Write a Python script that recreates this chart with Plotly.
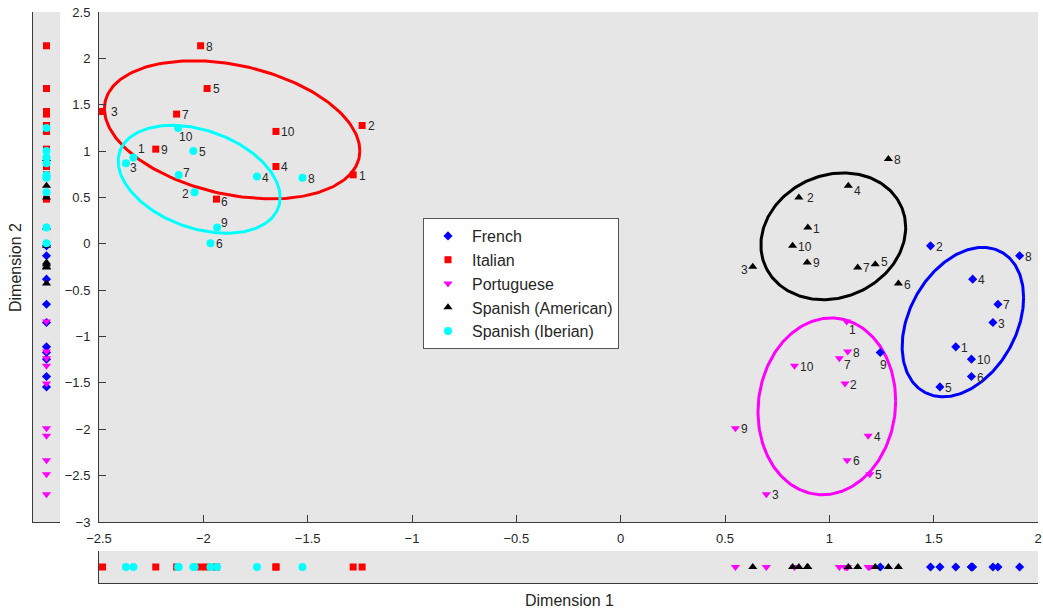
import numpy as np
import plotly.graph_objects as go

# Point numbers 1..10 for every language group
point_labels = [str(i) for i in range(1, 11)]

french_x = [1.606, 1.485, 1.784, 1.687, 1.530, 1.681, 1.808, 1.912, 1.244, 1.681]
french_y = [-1.111, -0.022, -0.849, -0.381, -1.543, -1.431, -0.651, -0.129, -1.172, -1.244]

italian_x = [-1.282, -1.239, -2.483, -1.652, -1.982, -1.937, -2.128, -2.013, -2.228, -1.652]
italian_y = [0.744, 1.276, 1.427, 0.834, 1.675, 0.482, 1.399, 2.136, 1.021, 1.212]

portuguese_x = [1.083, 1.075, 0.698, 1.186, 1.194, 1.085, 1.048, 1.088, 0.550, 0.833]
portuguese_y = [-0.838, -1.507, -2.700, -2.071, -2.485, -2.333, -1.233, -1.162, -1.988, -1.316]

spanish_am_x = [0.897, 0.854, 0.633, 1.091, 1.220, 1.331, 1.136, 1.283, 0.894, 0.824]
spanish_am_y = [0.176, 0.500, -0.248, 0.626, -0.219, -0.428, -0.255, 0.914, -0.201, -0.022]

spanish_ib_x = [-2.335, -2.042, -2.371, -1.743, -2.048, -1.966, -2.118, -1.525, -1.934, -2.121]
spanish_ib_y = [0.931, 0.557, 0.870, 0.726, 1.000, 0.007, 0.741, 0.712, 0.176, 1.248]

# Ellipse per group: centre (cx, cy), t=0 semi-diameter (a, c), vertical semi-extent d
ellipse_french = (1.640, -0.844, 0.291, 0.264, 0.761)
ellipse_italian = (-1.862, 1.230, 0.612, -0.227, 0.709)
ellipse_portuguese = (0.988, -1.753, 0.330, 0.059, 0.951)
ellipse_spanish_am = (1.019, 0.081, 0.347, 0.095, 0.677)
ellipse_spanish_ib = (-2.020, 0.696, 0.388, -0.196, 0.548)

x_ticks = [-2.5, -2, -1.5, -1, -0.5, 0, 0.5, 1, 1.5, 2]
y_ticks = [-3, -2.5, -2, -1.5, -1, -0.5, 0, 0.5, 1, 1.5, 2, 2.5]

FONT = "Liberation Sans, Arial, sans-serif"
TXT = "#262626"

groups = [
    dict(name="French", x=french_x, y=french_y, color="#0000ff",
         symbol="diamond", size=7, ell=ellipse_french,
         offsets={"9": (3, 12.3)}),
    dict(name="Italian", x=italian_x, y=italian_y, color="#ff0000",
         symbol="square", size=7, ell=ellipse_italian,
         offsets={"3": (11.7, 1), "6": (8.3, 3.3)}),
    dict(name="Portuguese", x=portuguese_x, y=portuguese_y, color="#ff00ff",
         symbol="triangle-down", size=8, ell=ellipse_portuguese,
         offsets={"1": (6, 8.7), "7": (8.3, 7)}),
    dict(name="Spanish (American)", x=spanish_am_x, y=spanish_am_y, color="#000000",
         symbol="triangle-up", size=8, ell=ellipse_spanish_am,
         offsets={"4": (9.3, 5.7), "3": (-8.7, 3.3), "2": (11.3, 1), "5": (9, -1.7)}),
    dict(name="Spanish (Iberian)", x=spanish_ib_x, y=spanish_ib_y, color="#00ffff",
         symbol="circle", size=8, ell=ellipse_spanish_ib,
         offsets={"10": (8.4, 9.4), "1": (8, -8.4), "3": (7.7, 4.4), "7": (8, -2.6),
                  "2": (-9, 2), "9": (7.3, -5)}),
]

fig = go.Figure()

# Ellipses first so markers sit on top
t = np.linspace(0, 2 * np.pi, 241)
for g in groups:
    cx, cy, a, c, d = g["ell"]
    fig.add_trace(go.Scatter(
        x=cx + a * np.cos(t), y=cy + c * np.cos(t) + d * np.sin(t),
        mode="lines", line=dict(color=g["color"], width=3),
        showlegend=False, hoverinfo="skip", xaxis="x", yaxis="y"))

annotations = []
for g in groups:
    mk = dict(symbol=g["symbol"], size=g["size"], color=g["color"], line=dict(width=0))
    fig.add_trace(go.Scatter(
        x=g["x"], y=g["y"], mode="markers", name=g["name"], marker=mk,
        xaxis="x", yaxis="y"))
    # Marginal strip on the left (Dimension 2 values)
    fig.add_trace(go.Scatter(
        x=[0.5] * len(g["y"]), y=g["y"], mode="markers", showlegend=False, marker=mk,
        xaxis="x2", yaxis="y2"))
    # Marginal strip at the bottom (Dimension 1 values)
    fig.add_trace(go.Scatter(
        x=g["x"], y=[0] * len(g["x"]), mode="markers", showlegend=False, marker=mk,
        xaxis="x3", yaxis="y3"))
    for lab, px, py in zip(point_labels, g["x"], g["y"]):
        dx, dy = g["offsets"].get(lab, (12.5 if len(lab) == 2 else 9, 1))
        annotations.append(dict(
            x=px, y=py, xref="x", yref="y", text=lab, showarrow=False,
            xanchor="center", yanchor="middle", xshift=dx, yshift=-dy,
            font=dict(family=FONT, size=12, color=TXT)))

annotations.append(dict(
    x=569 / 1043, y=1 - 600 / 609, xref="paper", yref="paper", text="Dimension 1",
    showarrow=False, xanchor="center", yanchor="middle",
    font=dict(family=FONT, size=16, color=TXT)))
annotations.append(dict(
    x=15 / 1043, y=1 - 268 / 609, xref="paper", yref="paper", text="Dimension 2",
    showarrow=False, xanchor="center", yanchor="middle", textangle=-90,
    font=dict(family=FONT, size=16, color=TXT)))

W, H = 1043, 609
main_x = [99 / W, 1038 / W]
main_y = [1 - 522 / H, 1 - 12 / H]
AX = "#3a3a3a"

strip_common = dict(showgrid=False, zeroline=False, showticklabels=False,
                    showline=True, linecolor=AX, ticks="", automargin=False)

fig.update_layout(
    width=W, height=H,
    margin=dict(l=0, r=0, t=0, b=0, autoexpand=False),
    paper_bgcolor="white",
    plot_bgcolor="#e6e6e6",
    font=dict(family=FONT, color=TXT),
    showlegend=True,
    legend=dict(x=423 / W, y=1 - 218 / H, xanchor="left", yanchor="top",
                bgcolor="white", bordercolor="#555555", borderwidth=1,
                itemwidth=38,
                font=dict(family=FONT, size=16, color=TXT)),
    xaxis=dict(domain=main_x, range=[-2.5, 2], tickvals=x_ticks, showgrid=False,
               zeroline=False, showline=True, linecolor=AX, linewidth=1,
               ticks="inside", ticklen=7, tickcolor=AX, automargin=False,
               ticklabelstandoff=4, ticklabeloverflow="allow",
               tickfont=dict(family=FONT, size=13, color=TXT), anchor="y"),
    yaxis=dict(domain=main_y, range=[-3, 2.5], tickvals=y_ticks, showgrid=False,
               zeroline=False, showline=True, linecolor=AX, linewidth=1,
               ticks="inside", ticklen=7, tickcolor=AX, automargin=False,
               ticklabelstandoff=5, ticklabeloverflow="allow",
               tickfont=dict(family=FONT, size=13, color=TXT), anchor="x"),
    xaxis2=dict(domain=[33 / W, 60 / W], range=[0, 1], anchor="y2", **strip_common),
    yaxis2=dict(domain=main_y, range=[-3, 2.5], anchor="x2", **strip_common),
    xaxis3=dict(domain=main_x, range=[-2.5, 2], anchor="y3", **strip_common),
    yaxis3=dict(domain=[1 - 583 / H, 1 - 551 / H], range=[-1, 1], anchor="x3",
                **strip_common),
    annotations=annotations,
)

fig.write_html("out.html")
